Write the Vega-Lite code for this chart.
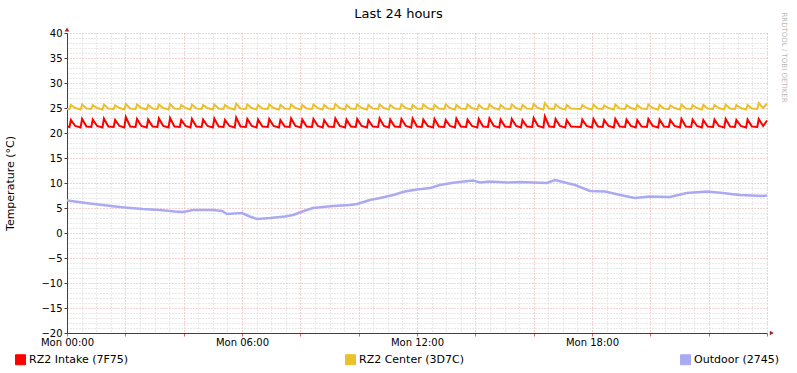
{
  "$schema": "https://vega.github.io/schema/vega-lite/v6.json",
  "width": 700,
  "height": 300,
  "autosize": "none",
  "padding": {"left": 67, "top": 33, "right": 30, "bottom": 40},
  "background": "#ffffff",
  "config": {"view": {"stroke": null}, "font": "DejaVu Sans"},
  "resolve": {"axis": {"x": "independent", "y": "independent"}},
  "layer": [
    {
      "data": {"values": [{"s": "i"}]},
      "mark": {"type": "point", "shape": "square", "filled": true, "opacity": 0},
      "encoding": {
        "x": {"datum": 0, "type": "quantitative", "axis": null},
        "y": {"datum": 0, "type": "quantitative", "axis": null},
        "color": {
          "field": "s", "type": "nominal",
          "scale": {"domain": ["i", "c", "o"], "range": ["#ff0000", "#eac12a", "#aaaaf2"]},
          "legend": {
            "orient": "none", "legendX": -52, "legendY": 321,
            "direction": "horizontal", "columns": 3, "columnPadding": 214,
            "title": null, "padding": 0,
            "symbolType": "square", "symbolSize": 100, "symbolStrokeWidth": 1, "symbolStrokeColor": "#000000",
            "symbolOpacity": 1,
            "labelFont": "DejaVu Sans", "labelFontSize": 11, "labelColor": "#000000", "labelOffset": 3,
            "labelExpr": "datum.value === 'i' ? 'RZ2 Intake (7F75)' : (datum.value === 'c' ? 'RZ2 Center (3D7C)' : 'Outdoor (2745)')",
            "encode": {"symbols": {"update": {
              "stroke": {"value": "#000000"},
              "strokeWidth": {"value": 1},
              "strokeOpacity": {"value": 1}
            }}}
          }
        }
      }
    },
    {
      "data": {"values": [
        {"m":0,"i":21.3,"c":24.8},
        {"m":5,"i":21.2,"c":24.8},{"m":8,"i":22.6,"c":25.6},{"m":17,"i":21.4,"c":25.0},
        {"m":28,"i":21.1,"c":24.7},{"m":31,"i":22.8,"c":25.7},{"m":40,"i":21.3,"c":24.9},
        {"m":50,"i":21.2,"c":24.8},{"m":53,"i":22.7,"c":25.6},{"m":62,"i":21.4,"c":25.0},
        {"m":73,"i":21.1,"c":24.7},{"m":76,"i":22.9,"c":25.7},{"m":85,"i":21.3,"c":24.9},
        {"m":96,"i":21.2,"c":24.8},{"m":99,"i":22.6,"c":25.5},{"m":108,"i":21.4,"c":25.0},
        {"m":118,"i":21.1,"c":24.7},{"m":121,"i":23.2,"c":25.8},{"m":130,"i":21.3,"c":24.9},
        {"m":141,"i":21.2,"c":24.8},{"m":144,"i":22.8,"c":25.7},{"m":153,"i":21.4,"c":25.0},
        {"m":164,"i":21.1,"c":24.7},{"m":167,"i":22.7,"c":25.6},{"m":176,"i":21.3,"c":24.9},
        {"m":186,"i":21.2,"c":24.8},{"m":189,"i":22.9,"c":25.7},{"m":198,"i":21.4,"c":25.0},
        {"m":209,"i":21.1,"c":24.7},{"m":212,"i":23.0,"c":25.8},{"m":221,"i":21.3,"c":24.9},
        {"m":232,"i":21.2,"c":24.8},{"m":235,"i":22.6,"c":25.6},{"m":244,"i":21.4,"c":25.0},
        {"m":254,"i":21.1,"c":24.7},{"m":257,"i":22.8,"c":25.7},{"m":266,"i":21.3,"c":24.9},
        {"m":277,"i":21.2,"c":24.8},{"m":280,"i":22.7,"c":25.6},{"m":289,"i":21.4,"c":25.0},
        {"m":300,"i":21.1,"c":24.7},{"m":303,"i":22.9,"c":25.7},{"m":312,"i":21.3,"c":24.9},
        {"m":322,"i":21.2,"c":24.8},{"m":325,"i":22.6,"c":25.6},{"m":334,"i":21.4,"c":25.0},
        {"m":345,"i":21.1,"c":24.7},{"m":348,"i":23.1,"c":25.9},{"m":357,"i":21.3,"c":24.9},
        {"m":368,"i":21.2,"c":24.8},{"m":371,"i":22.8,"c":25.7},{"m":380,"i":21.4,"c":25.0},
        {"m":390,"i":21.1,"c":24.7},{"m":393,"i":22.7,"c":25.6},{"m":402,"i":21.3,"c":24.9},
        {"m":413,"i":21.2,"c":24.8},{"m":416,"i":22.8,"c":25.7},{"m":425,"i":21.4,"c":25.0},
        {"m":436,"i":21.1,"c":24.7},{"m":439,"i":22.6,"c":25.6},{"m":448,"i":21.3,"c":24.9},
        {"m":458,"i":21.2,"c":24.8},{"m":461,"i":22.9,"c":25.7},{"m":470,"i":21.4,"c":25.0},
        {"m":481,"i":21.1,"c":24.7},{"m":484,"i":22.7,"c":25.6},{"m":493,"i":21.3,"c":24.9},
        {"m":504,"i":21.2,"c":24.8},{"m":507,"i":22.8,"c":25.7},{"m":516,"i":21.4,"c":25.0},
        {"m":526,"i":21.1,"c":24.7},{"m":529,"i":22.6,"c":25.6},{"m":538,"i":21.3,"c":24.9},
        {"m":549,"i":21.2,"c":24.8},{"m":552,"i":22.9,"c":25.8},{"m":561,"i":21.4,"c":25.0},
        {"m":572,"i":21.1,"c":24.7},{"m":575,"i":22.7,"c":25.6},{"m":584,"i":21.3,"c":24.9},
        {"m":594,"i":21.2,"c":24.8},{"m":597,"i":22.8,"c":25.7},{"m":606,"i":21.4,"c":25.0},
        {"m":617,"i":21.1,"c":24.7},{"m":620,"i":22.6,"c":25.6},{"m":629,"i":21.3,"c":24.9},
        {"m":640,"i":21.2,"c":24.8},{"m":643,"i":22.9,"c":25.7},{"m":652,"i":21.4,"c":25.0},
        {"m":662,"i":21.1,"c":24.7},{"m":665,"i":22.7,"c":25.6},{"m":674,"i":21.3,"c":24.9},
        {"m":685,"i":21.2,"c":24.8},{"m":688,"i":22.8,"c":25.7},{"m":697,"i":21.4,"c":25.0},
        {"m":708,"i":21.1,"c":24.7},{"m":711,"i":22.9,"c":25.6},{"m":720,"i":21.3,"c":24.9},
        {"m":730,"i":21.2,"c":24.8},{"m":733,"i":22.7,"c":25.7},{"m":742,"i":21.4,"c":25.0},
        {"m":753,"i":21.1,"c":24.7},{"m":756,"i":22.8,"c":25.6},{"m":765,"i":21.3,"c":24.9},
        {"m":776,"i":21.2,"c":24.8},{"m":779,"i":22.6,"c":25.7},{"m":788,"i":21.4,"c":25.0},
        {"m":798,"i":21.1,"c":24.7},{"m":801,"i":22.9,"c":25.6},{"m":810,"i":21.3,"c":24.9},
        {"m":821,"i":21.2,"c":24.8},{"m":824,"i":22.7,"c":25.7},{"m":833,"i":21.4,"c":25.0},
        {"m":844,"i":21.1,"c":24.7},{"m":847,"i":22.8,"c":25.6},{"m":856,"i":21.3,"c":24.9},
        {"m":866,"i":21.2,"c":24.8},{"m":869,"i":22.9,"c":25.7},{"m":878,"i":21.4,"c":25.0},
        {"m":889,"i":21.1,"c":24.7},{"m":892,"i":22.7,"c":25.6},{"m":901,"i":21.3,"c":24.9},
        {"m":912,"i":21.2,"c":24.8},{"m":915,"i":22.8,"c":25.7},{"m":924,"i":21.4,"c":25.0},
        {"m":934,"i":21.1,"c":24.7},{"m":937,"i":22.6,"c":25.6},{"m":946,"i":21.3,"c":24.9},
        {"m":957,"i":21.2,"c":24.8},{"m":960,"i":23.0,"c":25.8},{"m":969,"i":21.4,"c":25.0},
        {"m":980,"i":21.1,"c":24.7},{"m":983,"i":23.3,"c":26.0},{"m":992,"i":21.3,"c":24.9},
        {"m":1002,"i":21.2,"c":24.8},{"m":1005,"i":22.8,"c":25.7},{"m":1014,"i":21.4,"c":25.0},
        {"m":1025,"i":21.1,"c":24.7},{"m":1028,"i":22.6,"c":25.6},{"m":1037,"i":21.3,"c":24.9},
        {"m":1057,"i":21.2,"c":24.8},{"m":1060,"i":22.7,"c":25.6},{"m":1069,"i":21.4,"c":25.0},
        {"m":1080,"i":21.1,"c":24.7},{"m":1083,"i":22.8,"c":25.7},{"m":1092,"i":21.3,"c":24.9},
        {"m":1102,"i":21.2,"c":24.8},{"m":1105,"i":22.6,"c":25.5},{"m":1114,"i":21.4,"c":25.0},
        {"m":1125,"i":21.1,"c":24.7},{"m":1128,"i":22.8,"c":25.7},{"m":1137,"i":21.3,"c":24.9},
        {"m":1148,"i":21.2,"c":24.8},{"m":1151,"i":22.7,"c":25.6},{"m":1160,"i":21.4,"c":25.0},
        {"m":1170,"i":21.1,"c":24.7},{"m":1173,"i":22.6,"c":25.6},{"m":1182,"i":21.3,"c":24.9},
        {"m":1193,"i":21.2,"c":24.8},{"m":1196,"i":22.8,"c":25.7},{"m":1205,"i":21.4,"c":25.0},
        {"m":1216,"i":21.1,"c":24.7},{"m":1219,"i":22.7,"c":25.6},{"m":1228,"i":21.3,"c":24.9},
        {"m":1238,"i":21.2,"c":24.8},{"m":1241,"i":22.6,"c":25.5},{"m":1250,"i":21.4,"c":25.0},
        {"m":1261,"i":21.1,"c":24.7},{"m":1264,"i":22.8,"c":25.7},{"m":1273,"i":21.3,"c":24.9},
        {"m":1284,"i":21.2,"c":24.8},{"m":1287,"i":22.7,"c":25.6},{"m":1296,"i":21.4,"c":25.0},
        {"m":1306,"i":21.1,"c":24.7},{"m":1309,"i":22.6,"c":25.6},{"m":1318,"i":21.3,"c":24.9},
        {"m":1329,"i":21.2,"c":24.8},{"m":1332,"i":22.7,"c":25.6},{"m":1341,"i":21.4,"c":25.0},
        {"m":1352,"i":21.1,"c":24.7},{"m":1355,"i":22.8,"c":25.7},{"m":1364,"i":21.3,"c":24.9},
        {"m":1374,"i":21.2,"c":24.8},{"m":1377,"i":22.6,"c":25.6},{"m":1386,"i":21.4,"c":25.0},
        {"m":1397,"i":21.1,"c":24.7},{"m":1400,"i":22.7,"c":25.6},{"m":1409,"i":21.3,"c":24.9},
        {"m":1420,"i":21.2,"c":24.8},{"m":1423,"i":22.8,"c":26.0},{"m":1432,"i":21.4,"c":25.0},
        {"m":1440,"i":22.5,"c":25.9}
      ]},
      "transform": [{"fold": ["i", "c"], "as": ["s", "v"]}],
      "mark": {"type": "line", "strokeWidth": 2, "interpolate": "linear"},
      "encoding": {
        "x": {
          "field": "m", "type": "quantitative",
          "scale": {"domain": [0, 1440], "nice": false, "zero": false},
          "axis": {
            "values": [0,30,60,90,120,150,180,210,240,270,300,330,360,390,420,450,480,510,540,570,600,630,660,690,720,750,780,810,840,870,900,930,960,990,1020,1050,1080,1110,1140,1170,1200,1230,1260,1290,1320,1350,1380,1410,1440],
            "grid": true,
            "gridColor": {"condition": {"test": "datum.value % 120 === 0", "value": "#e8a4a4"}, "value": "#d2d2d2"},
            "gridDash": [1, 2],
            "labelExpr": "(datum.value % 360 === 0 && datum.value < 1440) ? 'Mon ' + (datum.value < 600 ? '0' : '') + (datum.value / 60) + ':00' : ''",
            "labelFont": "DejaVu Sans", "labelFontSize": 10, "labelColor": "#000000",
            "labelOverlap": false, "labelFlush": false, "labelPadding": 1,
            "ticks": true, "tickSize": 3,
            "tickColor": {"condition": {"test": "datum.value % 120 === 0", "value": "#e06060"}, "value": "transparent"},
            "domainColor": "#404040",
            "title": null
          }
        },
        "y": {
          "field": "v", "type": "quantitative",
          "scale": {"domain": [-20, 40], "nice": false, "zero": false},
          "axis": {
            "values": [-20,-19,-18,-17,-16,-15,-14,-13,-12,-11,-10,-9,-8,-7,-6,-5,-4,-3,-2,-1,0,1,2,3,4,5,6,7,8,9,10,11,12,13,14,15,16,17,18,19,20,21,22,23,24,25,26,27,28,29,30,31,32,33,34,35,36,37,38,39,40],
            "grid": true,
            "gridColor": {"condition": {"test": "datum.value % 5 === 0", "value": "#e8a4a4"}, "value": "#d2d2d2"},
            "gridDash": [1, 2],
            "labelExpr": "datum.value % 5 === 0 ? datum.label : ''",
            "labelFont": "DejaVu Sans", "labelFontSize": 10, "labelColor": "#000000",
            "labelOverlap": false, "labelPadding": 2,
            "ticks": true, "tickSize": 3,
            "tickColor": {"condition": {"test": "datum.value % 5 === 0", "value": "#404040"}, "value": "transparent"},
            "domainColor": "#404040",
            "title": "Temperature (°C)",
            "titleX": -57, "titleY": 150, "titleAngle": -90, "titleBaseline": "middle",
            "titleFont": "DejaVu Sans", "titleFontSize": 11, "titleFontWeight": "normal", "titleColor": "#000000"
          }
        },
        "color": {"field": "s", "type": "nominal", "legend": null}
      }
    },
    {
      "data": {"values": [
        {"m":0,"o":6.5},{"m":16,"o":6.3},{"m":47,"o":5.9},{"m":74,"o":5.6},{"m":99,"o":5.3},
        {"m":119,"o":5.1},{"m":156,"o":4.8},{"m":191,"o":4.6},{"m":222,"o":4.3},{"m":239,"o":4.2},
        {"m":259,"o":4.6},{"m":300,"o":4.6},{"m":319,"o":4.4},{"m":329,"o":3.8},{"m":360,"o":4.0},
        {"m":376,"o":3.3},{"m":391,"o":2.8},{"m":418,"o":3.0},{"m":448,"o":3.3},{"m":465,"o":3.6},
        {"m":490,"o":4.5},{"m":506,"o":5.0},{"m":547,"o":5.4},{"m":582,"o":5.6},{"m":597,"o":5.8},
        {"m":623,"o":6.6},{"m":644,"o":7.0},{"m":671,"o":7.6},{"m":695,"o":8.3},{"m":720,"o":8.7},
        {"m":747,"o":9.0},{"m":767,"o":9.6},{"m":798,"o":10.1},{"m":835,"o":10.5},{"m":850,"o":10.1},
        {"m":870,"o":10.3},{"m":905,"o":10.1},{"m":932,"o":10.2},{"m":987,"o":10.0},{"m":1004,"o":10.6},
        {"m":1024,"o":10.1},{"m":1045,"o":9.6},{"m":1076,"o":8.4},{"m":1107,"o":8.3},{"m":1138,"o":7.6},
        {"m":1168,"o":7.0},{"m":1199,"o":7.3},{"m":1240,"o":7.2},{"m":1275,"o":8.0},{"m":1317,"o":8.3},
        {"m":1349,"o":8.0},{"m":1384,"o":7.6},{"m":1432,"o":7.4},{"m":1440,"o":7.5}
      ]},
      "transform": [{"fold": ["o"], "as": ["s", "v"]}],
      "mark": {"type": "line", "strokeWidth": 2.5, "interpolate": "linear"},
      "encoding": {
        "x": {
          "field": "m", "type": "quantitative",
          "axis": {
            "orient": "top", "labels": false, "ticks": false, "domain": false, "grid": false,
            "title": "Last 24 hours", "titleX": 331, "titleY": -20, "titleAngle": 0, "titleBaseline": "middle",
            "titleFont": "DejaVu Sans", "titleFontSize": 13, "titleFontWeight": "normal", "titleColor": "#000000"
          }
        },
        "y": {
          "field": "v", "type": "quantitative",
          "axis": {
            "orient": "right", "labels": false, "ticks": false, "domain": false, "grid": false,
            "title": "RRDTOOL / TOBI OETIKER", "titleX": 16, "titleY": 24, "titleAngle": 90, "titleBaseline": "middle",
            "titleFont": "DejaVu Sans", "titleFontSize": 7, "titleFontWeight": "normal", "titleColor": "#b8b8b8"
          }
        },
        "color": {"field": "s", "type": "nominal", "legend": null}
      }
    },
    {
      "data": {"values": [{}]},
      "mark": {"type": "point", "shape": "triangle-up", "filled": true, "size": 22, "color": "#a02828", "opacity": 1},
      "encoding": {
        "x": {"datum": 0, "type": "quantitative", "axis": null},
        "y": {"datum": 40.7, "type": "quantitative", "axis": null}
      }
    },
    {
      "data": {"values": [{}]},
      "mark": {"type": "point", "shape": "triangle-right", "filled": true, "size": 22, "color": "#a02828", "opacity": 1},
      "encoding": {
        "x": {"datum": 1450, "type": "quantitative", "axis": null},
        "y": {"datum": -20, "type": "quantitative", "axis": null}
      }
    }
  ]
}
